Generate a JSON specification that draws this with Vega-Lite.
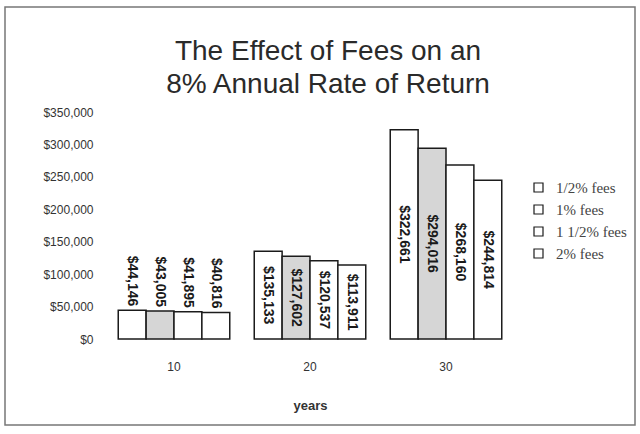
{
  "$schema": "https://vega.github.io/schema/vega-lite/v6.json",
  "width": 630,
  "height": 418,
  "autosize": {"type": "none"},
  "padding": {"left": 5, "top": 7, "right": 5, "bottom": 9},
  "background": "white",
  "config": {
    "view": {"stroke": "#777777", "strokeWidth": 1.5},
    "font": "Liberation Sans"
  },
  "title": {
    "text": ["The Effect of Fees on an", "8% Annual Rate of Return"],
    "font": "Liberation Sans",
    "fontSize": 28,
    "fontWeight": "normal",
    "color": "#2a2a2a",
    "anchor": "middle",
    "orient": "top",
    "frame": "group",
    "offset": -92,
    "dx": 8,
    "lineHeight": 33
  },
  "data": {
    "values": [
      {"years": "10", "fee": "1/2% fees", "value": 44146},
      {"years": "10", "fee": "1% fees", "value": 43005},
      {"years": "10", "fee": "1 1/2% fees", "value": 41895},
      {"years": "10", "fee": "2% fees", "value": 40816},
      {"years": "20", "fee": "1/2% fees", "value": 135133},
      {"years": "20", "fee": "1% fees", "value": 127602},
      {"years": "20", "fee": "1 1/2% fees", "value": 120537},
      {"years": "20", "fee": "2% fees", "value": 113911},
      {"years": "30", "fee": "1/2% fees", "value": 322661},
      {"years": "30", "fee": "1% fees", "value": 294016},
      {"years": "30", "fee": "1 1/2% fees", "value": 268160},
      {"years": "30", "fee": "2% fees", "value": 244814}
    ]
  },
  "encoding": {
    "x": {
      "field": "years",
      "type": "nominal",
      "scale": {"range": [101, 509], "paddingInner": 0.18, "paddingOuter": 0.09},
      "axis": {
        "orient": "bottom",
        "offset": -86,
        "domain": false,
        "ticks": false,
        "labelAngle": 0,
        "labelPadding": 22,
        "labelFontSize": 12,
        "labelColor": "#333333",
        "title": "years",
        "titleFontSize": 13,
        "titleFontWeight": "bold",
        "titleColor": "#333333",
        "titlePadding": 27
      }
    },
    "xOffset": {
      "field": "fee",
      "type": "nominal",
      "sort": ["1/2% fees", "1% fees", "1 1/2% fees", "2% fees"],
      "scale": {"paddingInner": 0, "paddingOuter": 0}
    }
  },
  "layer": [
    {
      "mark": {"type": "bar", "strokeWidth": 1.5},
      "encoding": {
        "y": {
          "field": "value",
          "type": "quantitative",
          "scale": {"domain": [0, 350000], "range": [332, 105], "nice": false},
          "axis": {
            "orient": "left",
            "offset": -96,
            "values": [0, 50000, 100000, 150000, 200000, 250000, 300000, 350000],
            "format": "$,.0f",
            "grid": false,
            "domain": false,
            "ticks": false,
            "labelPadding": 8,
            "labelFontSize": 12,
            "labelColor": "#333333",
            "title": null
          }
        },
        "fill": {
          "condition": {"test": "datum.fee == '1% fees'", "value": "#d6d6d6"},
          "value": "#ffffff"
        },
        "stroke": {
          "field": "fee",
          "type": "nominal",
          "sort": ["1/2% fees", "1% fees", "1 1/2% fees", "2% fees"],
          "scale": {
            "domain": ["1/2% fees", "1% fees", "1 1/2% fees", "2% fees"],
            "range": ["#1a1a1a", "#1b1b1b", "#1c1c1c", "#1d1d1d"]
          },
          "legend": {
            "orient": "none",
            "legendX": 526,
            "legendY": 173,
            "title": null,
            "padding": 0,
            "symbolType": "square",
            "symbolSize": 81,
            "symbolFillColor": "#ffffff",
            "symbolStrokeWidth": 1.2,
            "labelFont": "Liberation Serif",
            "labelFontSize": 15,
            "labelColor": "#444444",
            "labelOffset": 10,
            "rowPadding": 6
          }
        }
      }
    },
    {
      "transform": [{"filter": "datum.years == '10'"}],
      "mark": {
        "type": "text",
        "angle": 90,
        "align": "right",
        "baseline": "middle",
        "dx": -4,
        "fontSize": 14,
        "fontWeight": "bold",
        "color": "#1a1a1a"
      },
      "encoding": {
        "y": {"field": "value", "type": "quantitative", "scale": {"domain": [0, 350000], "range": [332, 105], "nice": false}, "axis": null},
        "text": {"field": "value", "type": "quantitative", "format": "$,.0f"}
      }
    },
    {
      "transform": [{"filter": "datum.years != '10'"}],
      "mark": {
        "type": "text",
        "angle": 90,
        "align": "center",
        "baseline": "middle",
        "fontSize": 14,
        "fontWeight": "bold",
        "color": "#1a1a1a"
      },
      "encoding": {
        "y": {"field": "value", "type": "quantitative", "scale": {"domain": [0, 700000], "range": [332, 105], "nice": false}, "axis": null},
        "text": {"field": "value", "type": "quantitative", "format": "$,.0f"}
      }
    }
  ],
  "resolve": {"scale": {"y": "independent"}}
}
